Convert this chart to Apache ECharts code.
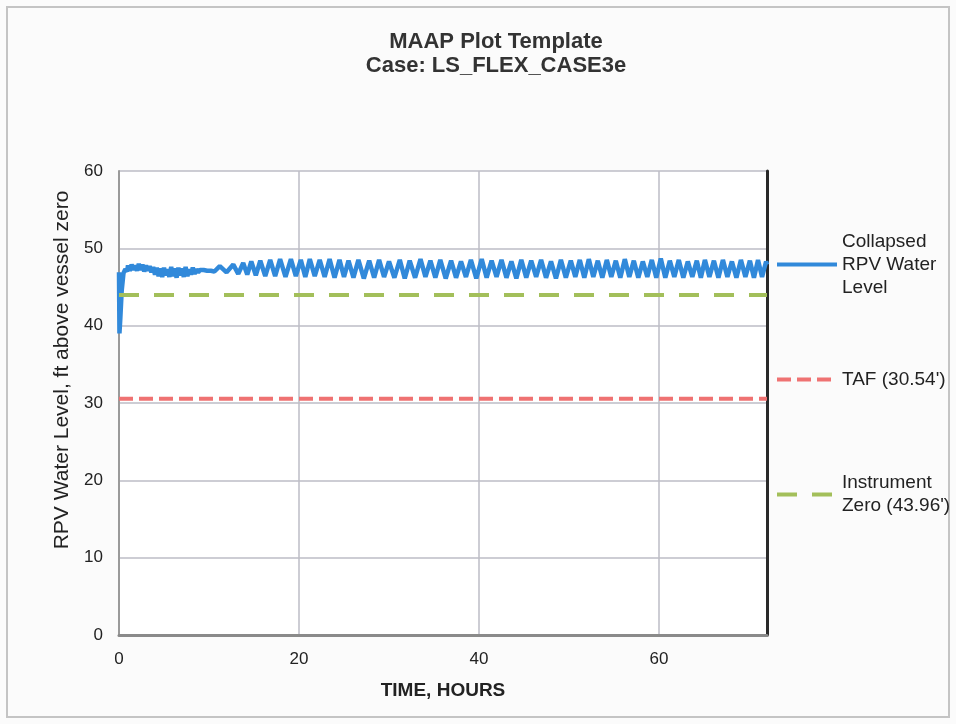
<!DOCTYPE html>
<html>
<head>
<meta charset="utf-8">
<title>MAAP Plot Template</title>
<script src="https://cdn.jsdelivr.net/npm/echarts@6/dist/echarts.min.js"></script>
<style>
  html, body { margin: 0; padding: 0; background: #fbfbfb; }
  #chart { width: 956px; height: 724px; }
</style>
</head>
<body>
<div id="chart"></div>
<script>
// Collapsed RPV water level (hours, ft above vessel zero)
const timeHours = [
  0, 0.05, 0.15, 0.3, 0.5, 0.7, 0.9,
  1.0, 1.2, 1.4, 1.6, 1.8, 2.0, 2.2, 2.4, 2.6, 2.8, 3.0, 3.2, 3.4, 3.6, 3.8,
  4.0, 4.2, 4.4, 4.6, 4.8, 5.0, 5.2, 5.4, 5.6, 5.8, 6.0, 6.2, 6.4, 6.6, 6.8,
  7.0, 7.2, 7.4, 7.6, 7.8, 8.0, 8.2, 8.4, 8.6, 8.8, 9.0, 9.2, 9.4, 9.6, 9.8,
  10.0, 10.2, 10.4, 10.6, 11.2, 11.95, 12.7, 13.25, 13.8, 14.25, 14.7, 15.2,
  15.7, 16.25, 16.8, 17.35, 17.9, 18.5, 19.1, 19.65, 20.2, 20.7, 21.2, 21.75,
  22.3, 22.85, 23.4, 23.95, 24.5, 25.0, 25.5, 26.05, 26.6, 27.2, 27.8, 28.35,
  28.9, 29.45, 30.0, 30.6, 31.2, 31.75, 32.3, 32.9, 33.5, 34.05, 34.6, 35.15,
  35.7, 36.3, 36.9, 37.45, 38.0, 38.55, 39.1, 39.7, 40.3, 40.85, 41.4, 41.95,
  42.5, 43.05, 43.6, 44.15, 44.7, 45.25, 45.8, 46.35, 46.9, 47.45, 48.0, 48.55,
  49.1, 49.65, 50.2, 50.7, 51.2, 51.7, 52.2, 52.7, 53.2, 53.7, 54.2, 54.7,
  55.2, 55.7, 56.2, 56.7, 57.2, 57.7, 58.2, 58.7, 59.2, 59.7, 60.2, 60.7,
  61.2, 61.7, 62.2, 62.7, 63.2, 63.7, 64.2, 64.65, 65.1, 65.6, 66.1, 66.6,
  67.1, 67.6, 68.1, 68.6, 69.1, 69.6, 70.1, 70.55, 71.0, 71.45, 71.9, 72.0
];
const collapsedLevel = [
  46.9, 39.0, 41.0, 44.5, 46.8, 47.3, 47.0,
  47.8, 47.1, 47.9, 47.2, 47.8, 47.1, 48.0, 47.2, 47.9, 47.0, 47.8, 47.1, 47.7, 46.9, 47.6,
  46.6, 47.5, 46.4, 47.4, 46.3, 47.5, 46.5, 47.3, 46.3, 47.6, 46.4, 47.4, 46.2, 47.5, 46.5,
  47.4, 46.3, 47.6, 46.4, 47.3, 46.6, 47.5, 46.7, 47.3, 46.9, 47.2, 47.0, 47.2, 47.0, 47.1,
  47.0, 47.1, 47.0, 47.0, 47.7, 46.9, 47.9, 46.7, 48.1, 46.6, 48.3, 46.5,
  48.4, 46.4, 48.5, 46.4, 48.6, 46.3, 48.6, 46.4, 48.5, 46.3, 48.6, 46.4,
  48.5, 46.3, 48.6, 46.2, 48.5, 46.3, 48.4, 46.2, 48.5, 46.1, 48.4, 46.2,
  48.5, 46.3, 48.3, 46.2, 48.5, 46.1, 48.4, 46.2, 48.6, 46.3, 48.4, 46.2,
  48.5, 46.1, 48.4, 46.2, 48.3, 46.3, 48.5, 46.1, 48.6, 46.2, 48.4, 46.3,
  48.5, 46.2, 48.3, 46.1, 48.5, 46.2, 48.4, 46.3, 48.5, 46.2, 48.3, 46.1,
  48.5, 46.2, 48.4, 46.3, 48.5, 46.2, 48.6, 46.3, 48.4, 46.2, 48.5, 46.3,
  48.4, 46.2, 48.6, 46.3, 48.4, 46.2, 48.3, 46.3, 48.5, 46.2, 48.7, 46.2,
  48.4, 46.3, 48.5, 46.2, 48.3, 46.3, 48.4, 46.2, 48.5, 46.3, 48.4, 46.2,
  48.5, 46.3, 48.3, 46.2, 48.5, 46.3, 48.4, 46.2, 48.5, 46.3, 48.3, 47.9
];

// reference levels (from the legend)
const tafLevel = 30.54;
const instrumentZero = 43.96;
const timeRange = [0, 72];

const seriesNames = ['Collapsed\nRPV Water\nLevel', 'TAF (30.54\')', 'Instrument\nZero (43.96\')'];

const fontFamily = "'Liberation Sans', Arial, sans-serif";

const chart = echarts.init(document.getElementById('chart'));

const legendBase = {
  left: 775,
  orient: 'vertical',
  itemWidth: 60,
  itemHeight: 14,
  itemGap: 0,
  padding: 0,
  selectedMode: false,
  itemStyle: { opacity: 0 },
  lineStyle: { width: 4, opacity: 1 },
  textStyle: { fontFamily: fontFamily, fontSize: 19, color: '#222', lineHeight: 23 }
};

const option = {
  backgroundColor: '#fbfbfb',
  animation: false,
  title: {
    text: 'MAAP Plot Template\nCase: LS_FLEX_CASE3e',
    left: 491,
    top: 25,
    textAlign: 'center',
    textStyle: { fontFamily: fontFamily, fontSize: 22, fontWeight: 'bold', color: '#333', lineHeight: 24 }
  },
  graphic: [{
    type: 'rect',
    shape: { x: 7, y: 7, width: 942, height: 710 },
    style: { fill: 'none', stroke: '#c4c4c4', lineWidth: 2 },
    silent: true
  }],
  legend: [
    Object.assign({}, legendBase, {
      top: 207,
      data: [seriesNames[0]],
      textStyle: Object.assign({}, legendBase.textStyle, { padding: [46, 0, 0, 0] })
    }),
    Object.assign({}, legendBase, {
      top: 368,
      data: [seriesNames[1]]
    }),
    Object.assign({}, legendBase, {
      top: 460,
      data: [seriesNames[2]],
      textStyle: Object.assign({}, legendBase.textStyle, { padding: [23, 0, 0, 0] })
    })
  ],
  grid: {
    left: 119,
    top: 171,
    right: 189,
    bottom: 89,
    show: true,
    backgroundColor: '#ffffff',
    borderWidth: 0
  },
  xAxis: {
    type: 'value',
    min: 0,
    max: 72,
    interval: 20,
    name: 'TIME, HOURS',
    nameLocation: 'middle',
    nameGap: 46,
    nameTextStyle: { fontFamily: fontFamily, fontSize: 19, fontWeight: 'bold', color: '#222' },
    axisLine: { show: true, onZero: false, lineStyle: { color: '#8a8a8a', width: 3 } },
    axisTick: { show: false },
    axisLabel: { fontFamily: fontFamily, fontSize: 17, color: '#222', margin: 16, showMaxLabel: false },
    splitLine: { show: true, lineStyle: { color: '#bdbdc6', width: 1.5 } }
  },
  yAxis: [{
    type: 'value',
    min: 0,
    max: 60,
    interval: 10,
    name: 'RPV Water Level, ft above vessel zero',
    nameLocation: 'middle',
    nameGap: 46,
    nameTextStyle: { fontFamily: fontFamily, fontSize: 21, color: '#222', padding: [0, 0, 0, 66] },
    axisLine: { show: true, lineStyle: { color: '#9a9a9a', width: 2 } },
    axisTick: { show: false },
    axisLabel: { fontFamily: fontFamily, fontSize: 17, color: '#222', margin: 16 },
    splitLine: { show: true, lineStyle: { color: '#bdbdc6', width: 1.5 } }
  }, {
    type: 'value',
    position: 'right',
    min: 0,
    max: 60,
    interval: 10,
    axisLine: { show: true, lineStyle: { color: '#2a2a2a', width: 3 } },
    axisTick: { show: false },
    axisLabel: { show: false },
    splitLine: { show: false }
  }],
  series: [
    {
      name: seriesNames[0],
      type: 'line',
      data: timeHours.map((t, i) => [t, collapsedLevel[i]]),
      showSymbol: false,
      symbol: 'none',
      z: 3,
      lineStyle: { color: '#3189da', width: 4.5 },
      itemStyle: { color: '#3189da' }
    },
    {
      name: seriesNames[1],
      type: 'line',
      data: timeRange.map(t => [t, tafLevel]),
      showSymbol: false,
      symbol: 'none',
      lineStyle: { color: '#ef7272', width: 4, type: [14, 6] },
      itemStyle: { color: '#ef7272' }
    },
    {
      name: seriesNames[2],
      type: 'line',
      data: timeRange.map(t => [t, instrumentZero]),
      showSymbol: false,
      symbol: 'none',
      lineStyle: { color: '#a3bf5a', width: 4, type: [20, 15] },
      itemStyle: { color: '#a3bf5a' }
    }
  ]
};

chart.setOption(option);
</script>
</body>
</html>
